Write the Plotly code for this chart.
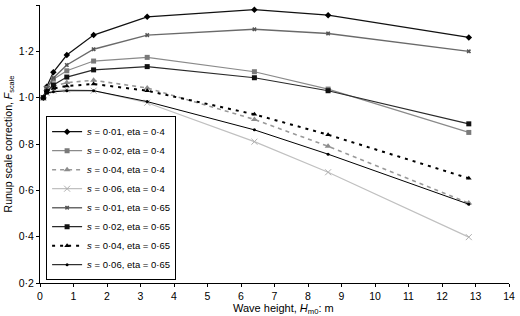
import plotly.graph_objects as go

wave_height = [0.1, 0.2, 0.4, 0.8, 1.6, 3.2, 6.4, 8.6, 12.8]

s001_eta04 = [1.00, 1.047, 1.11, 1.184, 1.27, 1.349, 1.38, 1.356, 1.26]
s002_eta04 = [1.00, 1.04, 1.08, 1.116, 1.158, 1.174, 1.112, 1.037, 0.85]
s004_eta04 = [1.00, 1.035, 1.05, 1.065, 1.075, 1.042, 0.906, 0.79, 0.545]
s006_eta04 = [1.00, 1.02, 1.03, 1.035, 1.03, 0.978, 0.81, 0.678, 0.398]
s001_eta065 = [1.00, 1.04, 1.085, 1.141, 1.209, 1.27, 1.295, 1.277, 1.20]
s002_eta065 = [1.00, 1.025, 1.055, 1.089, 1.12, 1.134, 1.086, 1.03, 0.887]
s004_eta065 = [1.00, 1.03, 1.04, 1.05, 1.059, 1.03, 0.928, 0.84, 0.652]
s006_eta065 = [1.00, 1.02, 1.025, 1.03, 1.03, 0.983, 0.861, 0.756, 0.54]

series_names = [
    "<i>s</i> = 0·01, eta = 0·4",
    "<i>s</i> = 0·02, eta = 0·4",
    "<i>s</i> = 0·04, eta = 0·4",
    "<i>s</i> = 0·06, eta = 0·4",
    "<i>s</i> = 0·01, eta = 0·65",
    "<i>s</i> = 0·02, eta = 0·65",
    "<i>s</i> = 0·04, eta = 0·65",
    "<i>s</i> = 0·06, eta = 0·65",
]
series_values = [s001_eta04, s002_eta04, s004_eta04, s006_eta04,
                 s001_eta065, s002_eta065, s004_eta065, s006_eta065]

y_ticks = [0.2, 0.4, 0.6, 0.8, 1.0, 1.2, 1.4]
y_tick_labels = ["0·2", "0·4", "0·6", "0·8", "1·0", "1·2", "1·4"]
x_ticks = list(range(0, 15))
x_tick_labels = [str(v) for v in x_ticks]

styles = [
    dict(line=dict(color="#111111", width=1.2), marker=dict(symbol="diamond", size=5, color="#000000")),
    dict(line=dict(color="#8a8a8a", width=1.2), marker=dict(symbol="square", size=5, color="#7a7a7a")),
    dict(line=dict(color="#999999", width=1.6, dash="4px,4px"), marker=dict(symbol="triangle-up", size=6, color="#8c8c8c")),
    dict(line=dict(color="#c0c0c0", width=1.2), marker=dict(symbol="x-thin", size=6, color="#b0b0b0", line=dict(color="#b0b0b0", width=1))),
    dict(line=dict(color="#6a6a6a", width=1.4), marker=dict(symbol="x", size=4, color="#555555")),
    dict(line=dict(color="#2a2a2a", width=1.2), marker=dict(symbol="square", size=5, color="#111111")),
    dict(line=dict(color="#000000", width=2, dash="3px,5px"), marker=dict(symbol="triangle-up", size=5, color="#000000")),
    dict(line=dict(color="#000000", width=1), marker=dict(symbol="circle", size=3, color="#000000")),
]

fig = go.Figure()
for name, vals, st in zip(series_names, series_values, styles):
    fig.add_trace(go.Scatter(x=wave_height, y=vals, mode="lines+markers", name=name,
                             line=st["line"], marker=st["marker"]))

font = "Liberation Sans, Arial, sans-serif"
fig.update_layout(
    width=520, height=316,
    margin=dict(l=40, r=8, t=5, b=33),
    paper_bgcolor="white", plot_bgcolor="white",
    font=dict(family=font, size=10.5, color="#000000"),
    showlegend=True,
    legend=dict(x=0.013, y=0.60, xanchor="left", yanchor="top",
                bordercolor="#000000", borderwidth=1, bgcolor="white",
                font=dict(size=9.5), tracegroupgap=0, itemwidth=30),
    xaxis=dict(range=[0, 14], tickvals=x_ticks, ticktext=x_tick_labels,
               showgrid=False, zeroline=False, showline=True, linecolor="#000000",
               linewidth=1, ticks="outside", ticklen=3, tickcolor="#000000"),
    yaxis=dict(range=[0.2, 1.4], tickvals=y_ticks, ticktext=y_tick_labels,
               showgrid=False, zeroline=False, showline=True, linecolor="#000000",
               linewidth=1, ticks="outside", ticklen=3, tickcolor="#000000",
               title=dict(text="Runup scale correction, <i>F</i><sub>scale</sub>", standoff=4,
                          font=dict(size=10.5))),
    annotations=[dict(text="Wave height, <i>H</i><sub>m0</sub>: m", xref="paper", yref="paper",
                      x=0.52, y=0, yshift=-26, xanchor="center", yanchor="middle",
                      showarrow=False, font=dict(size=11))],
)

fig.write_html("out.html")
